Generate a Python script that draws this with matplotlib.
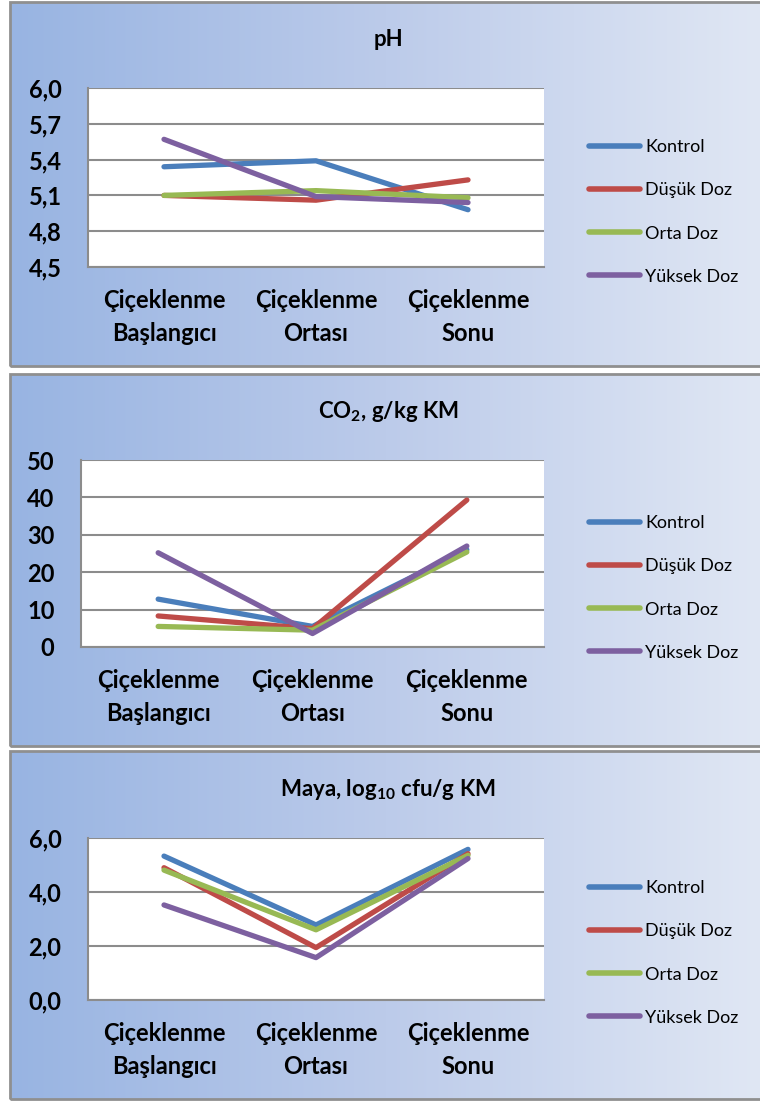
import numpy as np
import matplotlib
matplotlib.use('Agg')
import matplotlib.pyplot as plt
from matplotlib.patches import Rectangle
from matplotlib.ticker import FuncFormatter

# Veriler
categories = ['Çiçeklenme\nBaşlangıcı', 'Çiçeklenme\nOrtası', 'Çiçeklenme\nSonu']
series_names = ['Kontrol', 'Düşük Doz', 'Orta Doz', 'Yüksek Doz']

ph_kontrol = [5.34, 5.39, 4.98]
ph_dusuk = [5.10, 5.06, 5.23]
ph_orta = [5.10, 5.14, 5.08]
ph_yuksek = [5.57, 5.09, 5.04]

co2_kontrol = [12.8, 5.5, 26.0]
co2_dusuk = [8.3, 4.9, 39.3]
co2_orta = [5.5, 4.5, 25.4]
co2_yuksek = [25.2, 3.6, 27.0]

maya_kontrol = [5.33, 2.78, 5.58]
maya_dusuk = [4.90, 1.94, 5.42]
maya_orta = [4.81, 2.60, 5.36]
maya_yuksek = [3.52, 1.57, 5.24]

ph_ticks = [4.5, 4.8, 5.1, 5.4, 5.7, 6.0]
co2_ticks = [0, 10, 20, 30, 40, 50]
maya_ticks = [0.0, 2.0, 4.0, 6.0]

# Renkler
colors = ['#4a7ebb', '#be4b48', '#98b954', '#7d60a0']
grid_c = '#8c8c8c'

plt.rcParams['font.family'] = 'Lato'
plt.rcParams['mathtext.fontset'] = 'custom'
plt.rcParams['mathtext.rm'] = 'Lato:bold'
plt.rcParams['mathtext.default'] = 'rm'

W, H = 760, 1101
fig = plt.figure(figsize=(W / 100, H / 100), dpi=100)
fig.patch.set_facecolor('white')


def px_axes(left, top, right, bottom, **kw):
    return fig.add_axes([left / W, 1 - bottom / H, (right - left) / W, (bottom - top) / H], **kw)


def panel_bg(top, bottom):
    ax_bg = px_axes(10, top, 762, bottom)
    grad = np.linspace(0, 1, 256).reshape(1, -1)
    cmap = matplotlib.colors.LinearSegmentedColormap.from_list(
        'bg', ['#98b4e2', '#bccbea', '#e0e7f4'])
    ax_bg.imshow(grad, aspect='auto', cmap=cmap, extent=[0, 1, 0, 1])
    ax_bg.set_xlim(0, 1)
    ax_bg.set_ylim(0, 1)
    ax_bg.axis('off')
    ax_bg.add_patch(Rectangle((0, 0), 1, 1, transform=ax_bg.transAxes, fill=False,
                              edgecolor='#8f8f8f', linewidth=2, clip_on=False))
    return ax_bg


def draw_panel(box, title, title_y, values, ticks, fmt, legend_cy):
    ax = px_axes(*box)
    ax.set_facecolor('white')
    x = np.arange(len(categories))
    for vals, name, c in zip(values, series_names, colors):
        ax.plot(x, vals, color=c, linewidth=3.8, solid_capstyle='round', label=name)
    ax.set_xlim(-0.5, 2.5)
    ax.set_ylim(ticks[0], ticks[-1])
    ax.set_yticks(ticks)
    ax.yaxis.set_major_formatter(FuncFormatter(fmt))
    ax.set_xticks(x)
    ax.set_xticklabels(categories, fontsize=17, fontweight='bold', linespacing=1.5)
    ax.tick_params(axis='both', length=0)
    ax.tick_params(axis='y', pad=19, labelsize=17)
    ax.tick_params(axis='x', pad=16)
    for lbl in ax.get_yticklabels():
        lbl.set_fontweight('bold')
    for t in ticks:
        ax.axhline(t, color=grid_c, linewidth=1.5, zorder=0)
    for s in ['top', 'right']:
        ax.spines[s].set_visible(False)
    for s in ['left', 'bottom']:
        ax.spines[s].set_color(grid_c)
        ax.spines[s].set_linewidth(1.5)
    fig.text(388 / W, 1 - title_y / H, title, fontsize=16, fontweight='bold',
             ha='center', va='center')
    leg = ax.legend(loc='center left', bbox_to_anchor=(573 / W, 1 - legend_cy / H),
                    bbox_transform=fig.transFigure, frameon=False, fontsize=13,
                    handlelength=2.8, handletextpad=0.3, labelspacing=1.5)
    for line in leg.get_lines():
        line.set_linewidth(4)
    return ax


def fmt_dec(v, pos):
    return ('%.1f' % v).replace('.', ',')


def fmt_int(v, pos):
    return '%d' % v


panel_bg(2, 366)
panel_bg(374, 746)
panel_bg(751, 1099)

draw_panel((88, 88, 544, 267), 'pH', 40,
           [ph_kontrol, ph_dusuk, ph_orta, ph_yuksek], ph_ticks, fmt_dec, 212)
draw_panel((81, 460, 544, 647), r'CO$_2$, g/kg KM', 412,
           [co2_kontrol, co2_dusuk, co2_orta, co2_yuksek], co2_ticks, fmt_int, 588)
draw_panel((88, 838, 544, 1000), r'Maya, log$_{10}$ cfu/g KM', 790,
           [maya_kontrol, maya_dusuk, maya_orta, maya_yuksek], maya_ticks, fmt_dec, 953)

fig.savefig('out.png', dpi=100)
